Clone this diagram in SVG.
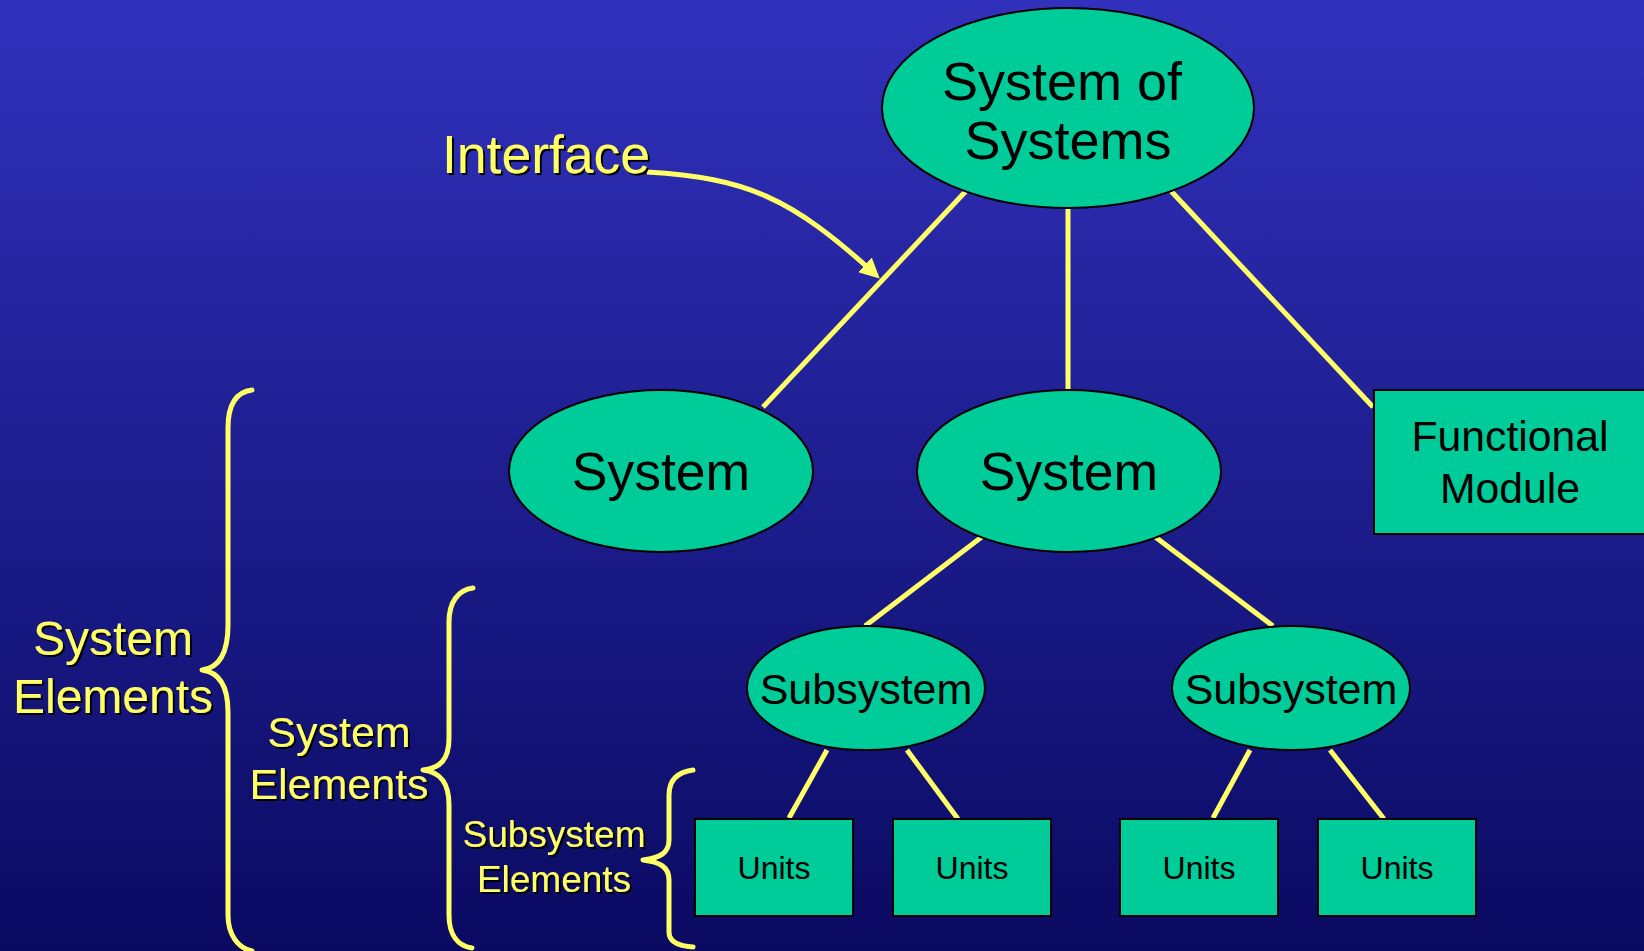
<svg xmlns="http://www.w3.org/2000/svg" width="1644" height="951" viewBox="0 0 1644 951">
<defs>
<linearGradient id="bg" x1="0" y1="0" x2="0" y2="1">
<stop offset="0" stop-color="#3131BD"/>
<stop offset="1" stop-color="#0A0A62"/>
</linearGradient>
<filter id="sh" x="-10%" y="-10%" width="130%" height="140%">
<feDropShadow dx="2" dy="2" stdDeviation="0" flood-color="#000000" flood-opacity="1"/>
</filter>
<marker id="arr" markerWidth="4" markerHeight="4" refX="3" refY="2" orient="auto" markerUnits="strokeWidth">
<path d="M0,0 L4,2 L0,4 Z" fill="#FFFF66"/>
</marker>
<style>
.node{fill:#00CC99;stroke:#000;stroke-width:2}
.nt{font-family:"Liberation Sans",Arial,sans-serif;fill:#000;text-anchor:middle}
.yt{font-family:"Liberation Sans",Arial,sans-serif;fill:#FFFF66;text-anchor:middle;filter:url(#sh)}
.ln{stroke:#FFFF66;stroke-width:5;fill:none}
.br{stroke:#FFFF66;stroke-width:5;fill:none;stroke-linecap:round;stroke-linejoin:round}
</style>
</defs>
<rect x="0" y="0" width="1644" height="951" fill="url(#bg)"/>

<g id="connectors">
<line class="ln" x1="966" y1="191" x2="763" y2="407"/>
<line class="ln" x1="1068" y1="208" x2="1068" y2="390"/>
<line class="ln" x1="1171" y1="191" x2="1373" y2="407"/>
<line class="ln" x1="983" y1="536" x2="865" y2="626"/>
<line class="ln" x1="1154" y1="536" x2="1273" y2="626"/>
<line class="ln" x1="827" y1="750" x2="789" y2="818"/>
<line class="ln" x1="907" y1="750" x2="958" y2="819"/>
<line class="ln" x1="1250" y1="750" x2="1213" y2="818"/>
<line class="ln" x1="1330" y1="750" x2="1384" y2="819"/>
<path class="ln" d="M647,172 C745,178 790,196 876,275" marker-end="url(#arr)"/>
</g>

<g id="braces">
<path class="br" d="M252,390 C236,392 228,405 228,428 L228,625 C228,655 218,668 202,670 C218,672 228,685 228,712 L228,915 C228,935 238,948 252,951"/>
<path class="br" d="M473,588 C458,590 449,602 449,622 L449,738 C449,760 440,768 423,770 C440,772 449,782 449,805 L449,915 C449,935 458,946 472,948"/>
<path class="br" d="M693,770 C678,772 669,780 669,795 L669,840 C669,853 660,858 643,860 C660,862 669,867 669,880 L669,932 C669,942 678,946 693,947"/>
</g>

<g id="label-interface">
<text class="yt" x="546" y="173" font-size="53.5">Interface</text>
</g>
<g id="label-system-elements-1">
<text class="yt" x="113" y="655" font-size="48">System</text>
<text class="yt" x="113" y="713" font-size="48">Elements</text>
</g>
<g id="label-system-elements-2">
<text class="yt" x="339" y="747" font-size="43">System</text>
<text class="yt" x="339" y="799" font-size="43">Elements</text>
</g>
<g id="label-subsystem-elements">
<text class="yt" x="554" y="847" font-size="37">Subsystem</text>
<text class="yt" x="554" y="892" font-size="37">Elements</text>
</g>

<g id="node-sos">
<ellipse class="node" cx="1068" cy="108" rx="186" ry="100"/>
<text class="nt" x="1062" y="100" font-size="54">System of</text>
<text class="nt" x="1068" y="159" font-size="54">Systems</text>
</g>
<g id="node-system-1">
<ellipse class="node" cx="661" cy="471" rx="152" ry="81"/>
<text class="nt" x="661" y="490" font-size="53.5">System</text>
</g>
<g id="node-system-2">
<ellipse class="node" cx="1069" cy="471" rx="152" ry="81"/>
<text class="nt" x="1069" y="490" font-size="53.5">System</text>
</g>
<g id="node-functional-module">
<rect class="node" x="1374" y="390" width="290" height="144"/>
<text class="nt" x="1510" y="451" font-size="42.7">Functional</text>
<text class="nt" x="1510" y="503" font-size="42.7">Module</text>
</g>
<g id="node-subsystem-1">
<ellipse class="node" cx="866" cy="688" rx="119" ry="62"/>
<text class="nt" x="866" y="704" font-size="43">Subsystem</text>
</g>
<g id="node-subsystem-2">
<ellipse class="node" cx="1291" cy="688" rx="119" ry="62"/>
<text class="nt" x="1291" y="704" font-size="43">Subsystem</text>
</g>
<g id="node-units-1">
<rect class="node" x="695" y="819" width="158" height="97"/>
<text class="nt" x="774" y="879" font-size="32">Units</text>
</g>
<g id="node-units-2">
<rect class="node" x="893" y="819" width="158" height="97"/>
<text class="nt" x="972" y="879" font-size="32">Units</text>
</g>
<g id="node-units-3">
<rect class="node" x="1120" y="819" width="158" height="97"/>
<text class="nt" x="1199" y="879" font-size="32">Units</text>
</g>
<g id="node-units-4">
<rect class="node" x="1318" y="819" width="158" height="97"/>
<text class="nt" x="1397" y="879" font-size="32">Units</text>
</g>
</svg>
